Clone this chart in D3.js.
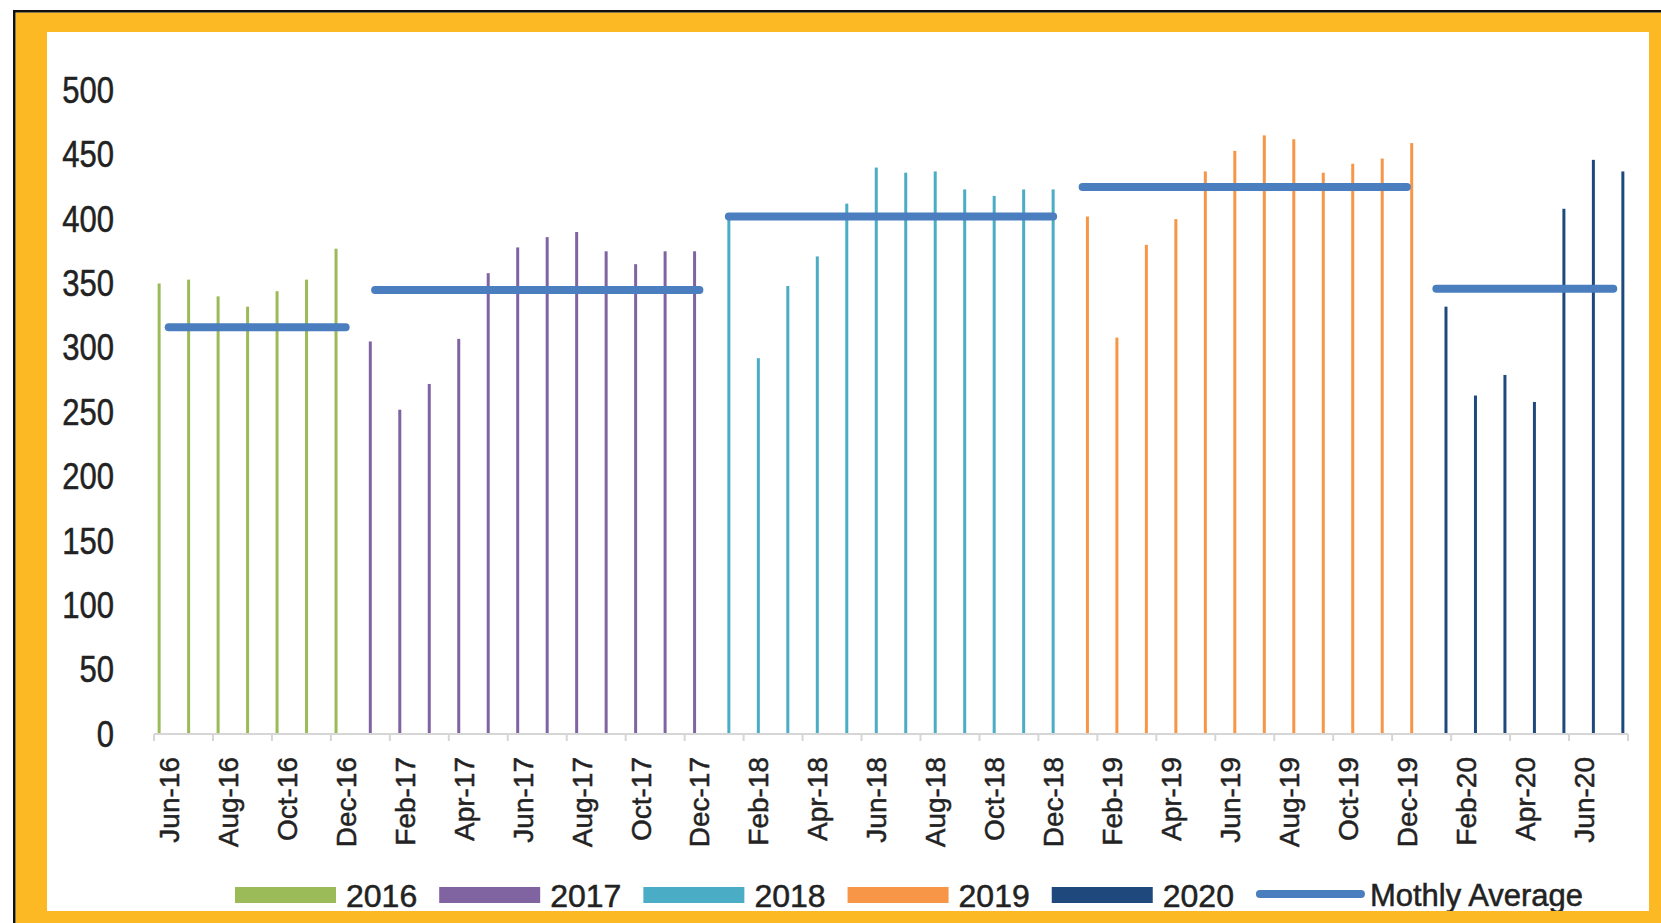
<!DOCTYPE html>
<html>
<head>
<meta charset="utf-8">
<script src="https://cdn.jsdelivr.net/npm/d3@7"></script>
<style>
  html, body { margin: 0; padding: 0; background: #ffffff; }
  svg { display: block; }
  text { font-family: "Liberation Sans", Arial, sans-serif; fill: #222; stroke: #222; stroke-width: 0.5px; }
</style>
</head>
<body>
<script>
// ---------------- DATA ----------------
const years = ["2016", "2017", "2018", "2019", "2020"];
const months2016 = ["Jun-16","Jul-16","Aug-16","Sep-16","Oct-16","Nov-16","Dec-16"];
const months2017 = ["Jan-17","Feb-17","Mar-17","Apr-17","May-17","Jun-17","Jul-17","Aug-17","Sep-17","Oct-17","Nov-17","Dec-17"];
const months2018 = ["Jan-18","Feb-18","Mar-18","Apr-18","May-18","Jun-18","Jul-18","Aug-18","Sep-18","Oct-18","Nov-18","Dec-18"];
const months2019 = ["Jan-19","Feb-19","Mar-19","Apr-19","May-19","Jun-19","Jul-19","Aug-19","Sep-19","Oct-19","Nov-19","Dec-19"];
const months2020 = ["Jan-20","Feb-20","Mar-20","Apr-20","May-20","Jun-20","Jul-20"];

const values2016 = [349, 352, 339, 331, 343, 352, 376];
const values2017 = [304, 251, 271, 306, 357, 377, 385, 389, 374, 364, 374, 374];
const values2018 = [401, 291, 347, 370, 411, 439, 435, 436, 422, 417, 422, 422];
const values2019 = [401, 307, 379, 399, 436, 452, 464, 461, 435, 442, 446, 458];
const values2020 = [331, 262, 278, 257, 407, 445, 436];

const monthlyAverage = [315, 344, 401, 424, 345];

const tickLabels = ["Jun-16","Aug-16","Oct-16","Dec-16","Feb-17","Apr-17","Jun-17","Aug-17","Oct-17","Dec-17",
  "Feb-18","Apr-18","Jun-18","Aug-18","Oct-18","Dec-18","Feb-19","Apr-19","Jun-19","Aug-19","Oct-19","Dec-19",
  "Feb-20","Apr-20","Jun-20"];
const yTicks = [0, 50, 100, 150, 200, 250, 300, 350, 400, 450, 500];

const colors = ["#9BBB59", "#8064A2", "#4BACC6", "#F79646", "#1F497D"];
const avgColor = "#4A7EBF";
const avgLabel = "Mothly Average";

// ---------------- BUILD ----------------
const monthsByYear = [months2016, months2017, months2018, months2019, months2020];
const valuesByYear = [values2016, values2017, values2018, values2019, values2020];
const series = years.map((yr, i) => ({
  year: yr, color: colors[i], avg: monthlyAverage[i],
  points: monthsByYear[i].map((m, j) => ({ month: m, value: valuesByYear[i][j] }))
}));
const allMonths = monthsByYear.flat();

const W = 1661, H = 923;
const svg = d3.select("body").append("svg").attr("width", W).attr("height", H);
svg.append("rect").attr("width", W).attr("height", H).attr("fill", "#fff");

const x0 = d3.scaleBand().domain(allMonths).range([154, 1628]).paddingInner(0).paddingOuter(0);
const x1 = d3.scaleBand().domain(years).range([-12, 12]);
const y = d3.scaleLinear().domain([0, 500]).range([733, 89]);
const barW = 3;

// bars
const chart = svg.append("g");
series.forEach(s => {
  chart.append("g").selectAll("rect").data(s.points).join("rect")
    .attr("x", d => x0(d.month) + x0.bandwidth() / 2 + x1(s.year) + (x1.bandwidth() - barW) / 2)
    .attr("y", d => y(d.value))
    .attr("width", barW)
    .attr("height", d => y(0) - y(d.value))
    .attr("fill", s.color);
});

// x axis line & ticks
const axisY = y(0);
const xr = x0.range();
chart.append("line").attr("x1", xr[0]).attr("x2", xr[1]).attr("y1", axisY + 1).attr("y2", axisY + 1)
  .attr("stroke", "#D6D6D6").attr("stroke-width", 2);
const tickPos = tickLabels.map(m => x0(m)).concat([xr[1]]);
chart.append("g").selectAll("line").data(tickPos).join("line")
  .attr("x1", d => d).attr("x2", d => d).attr("y1", axisY + 1).attr("y2", axisY + 8)
  .attr("stroke", "#D6D6D6").attr("stroke-width", 2);

// x labels
const xAxis = d3.axisBottom(x0).tickValues(tickLabels).tickSize(0).tickPadding(0);
const gx = chart.append("g").attr("transform", `translate(0,${axisY})`).call(xAxis);
gx.select(".domain").remove();
gx.selectAll("text")
  .attr("transform", "rotate(-90)")
  .attr("text-anchor", "end")
  .attr("x", -24).attr("y", 0).attr("dy", "0.36em")
  .style("font-size", "28px")
  .style("font-family", "'Liberation Sans', Arial, sans-serif")
  .attr("fill", "#222");

// y labels
const sx = 0.84;
const yAxis = d3.axisLeft(y).tickValues(yTicks).tickSize(0).tickPadding(0);
const gy = chart.append("g").attr("transform", `translate(${xr[0]},0)`).call(yAxis);
gy.select(".domain").remove();
gy.selectAll("text")
  .attr("x", -40 / sx)
  .attr("dy", "0.36em")
  .attr("transform", `scale(${sx},1)`)
  .style("font-size", "37px")
  .style("font-family", "'Liberation Sans', Arial, sans-serif")
  .attr("fill", "#222");

// average lines
const line = d3.line().x(d => x0(d.month) + x0.bandwidth() / 2).y(d => y(d.v));
series.forEach(s => {
  const first = s.points[0].month, last = s.points[s.points.length - 1].month;
  chart.append("path")
    .attr("d", line([{ month: first, v: s.avg }, { month: last, v: s.avg }]))
    .attr("stroke", avgColor).attr("stroke-width", 8).attr("stroke-linecap", "round")
    .attr("fill", "none");
});

// legend
const lg = svg.append("g");
let lx = 235;
const legY = 895;
series.forEach(s => {
  lg.append("rect").attr("x", lx).attr("y", legY - 8).attr("width", 101).attr("height", 16).attr("fill", s.color);
  const t = lg.append("text").attr("x", lx + 111).attr("y", legY).attr("dy", "0.36em")
    .style("font-size", "32px").text(s.year);
  lx = lx + 111 + t.node().getComputedTextLength() + 22;
});
lg.append("line").attr("x1", lx + 4).attr("x2", lx + 105).attr("y1", legY - 1).attr("y2", legY - 1)
  .attr("stroke", avgColor).attr("stroke-width", 8).attr("stroke-linecap", "round");
lg.append("text").attr("x", lx + 114).attr("y", legY).attr("dy", "0.36em")
  .style("font-size", "31px").text(avgLabel);

// frame (drawn over everything)
const fx0 = 15.5, fy0 = 12.5, ix0 = 47, iy0 = 32, ix1 = 1649, iy1 = 911;
svg.append("path")
  .attr("d", `M${fx0},${fy0}H${W}V${H}H${fx0}Z M${ix0},${iy0}V${iy1}H${ix1}V${iy0}Z`)
  .attr("fill", "#FDB924").attr("fill-rule", "evenodd");
svg.append("rect").attr("x", 13).attr("y", 10).attr("width", W - 13).attr("height", 2.5).attr("fill", "#111");
svg.append("rect").attr("x", 13).attr("y", 10).attr("width", 2.5).attr("height", H - 10).attr("fill", "#111");
</script>
</body>
</html>
